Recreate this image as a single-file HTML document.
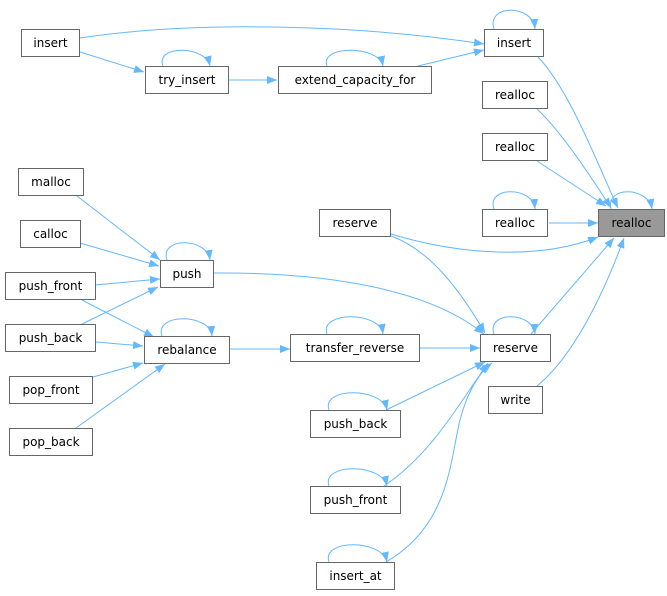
<!DOCTYPE html>
<html><head><meta charset="utf-8"><style>
body{margin:0;width:667px;height:596px;background:#fff;position:relative;overflow:hidden;font-family:"DejaVu Sans","Liberation Sans",sans-serif;}
.n{position:absolute;box-sizing:border-box;border:1px solid #666;background:#fff;font-size:12px;color:#000;display:flex;align-items:center;justify-content:center;white-space:nowrap;}
.g{background:#999;}
svg{position:absolute;left:0;top:0;}
</style></head><body>
<svg width="667" height="596" viewBox="0 0 667 596">
<defs><marker id="a" markerUnits="userSpaceOnUse" markerWidth="11" markerHeight="8" refX="10" refY="4" orient="auto"><path d="M0,0 L10,4 L0,8 z" fill="#63b8ff"/></marker></defs>
<g fill="none" stroke="#63b8ff" stroke-width="1" marker-end="url(#a)">
<path d="M80,38 C200,20 360,25 484,44"/>
<path d="M80,52 L144,72"/>
<path d="M163,66 C155,45 205,45 210,66"/>
<path d="M229,80 L277,80"/>
<path d="M327,66 C319,45 379,45 383,66"/>
<path d="M418,66 L484,50"/>
<path d="M494,29 C486,4 533,4 535,29"/>
<path d="M538,57 C570,90 600,170 618,208"/>
<path d="M537,109 C560,130 590,175 611,208"/>
<path d="M537,161 L606,206"/>
<path d="M494,209 C486,186 533,186 535,209"/>
<path d="M549,223 L598,223"/>
<path d="M611,209 C605,186 648,186 652,209"/>
<path d="M391,234 C460,255 540,260 598,237"/>
<path d="M391,236 C430,250 460,290 485,333"/>
<path d="M213,273 C330,272 430,290 484,334"/>
<path d="M531,334 L614,238"/>
<path d="M537,386 C575,355 605,290 624,238"/>
<path d="M494,334 C486,311 533,311 535,334"/>
<path d="M77,196 L160,260"/>
<path d="M80,243 L159,266"/>
<path d="M95,285 L160,279"/>
<path d="M82,324 L158,287"/>
<path d="M167,260 C159,237 207,237 210,260"/>
<path d="M82,300 L154,337"/>
<path d="M96,342 L143,346"/>
<path d="M93,377 L143,363"/>
<path d="M76,428 L165,364"/>
<path d="M162,336 C154,313 210,313 212,336"/>
<path d="M230,349 L290,349"/>
<path d="M327,334 C319,311 380,311 383,334"/>
<path d="M420,348 L480,348"/>
<path d="M386,410 L485,362"/>
<path d="M329,410 C321,387 382,387 387,410"/>
<path d="M384,486 C430,455 455,410 488,363"/>
<path d="M329,486 C321,463 382,463 387,486"/>
<path d="M386,562 C450,525 450,460 460,420 C468,390 480,372 492,363"/>
<path d="M329,562 C321,539 382,539 387,562"/>
</g>
</svg>
<div class="n" style="left:21px;top:29px;width:59px;height:28px">insert</div>
<div class="n" style="left:145px;top:66px;width:84px;height:28px">try_insert</div>
<div class="n" style="left:278px;top:66px;width:154px;height:28px">extend_capacity_for</div>
<div class="n" style="left:484px;top:29px;width:60px;height:28px">insert</div>
<div class="n" style="left:482px;top:81px;width:66px;height:28px">realloc</div>
<div class="n" style="left:482px;top:133px;width:66px;height:28px">realloc</div>
<div class="n" style="left:482px;top:209px;width:66px;height:28px">realloc</div>
<div class="n g" style="left:598px;top:209px;width:67px;height:28px">realloc</div>
<div class="n" style="left:319px;top:209px;width:72px;height:28px">reserve</div>
<div class="n" style="left:18px;top:168px;width:66px;height:28px">malloc</div>
<div class="n" style="left:20px;top:220px;width:61px;height:28px">calloc</div>
<div class="n" style="left:160px;top:260px;width:54px;height:28px">push</div>
<div class="n" style="left:5px;top:272px;width:91px;height:28px">push_front</div>
<div class="n" style="left:5px;top:324px;width:91px;height:28px">push_back</div>
<div class="n" style="left:144px;top:336px;width:86px;height:28px">rebalance</div>
<div class="n" style="left:9px;top:376px;width:84px;height:28px">pop_front</div>
<div class="n" style="left:9px;top:428px;width:84px;height:28px">pop_back</div>
<div class="n" style="left:290px;top:334px;width:130px;height:28px">transfer_reverse</div>
<div class="n" style="left:480px;top:334px;width:71px;height:28px">reserve</div>
<div class="n" style="left:488px;top:386px;width:55px;height:28px">write</div>
<div class="n" style="left:310px;top:410px;width:91px;height:28px">push_back</div>
<div class="n" style="left:310px;top:486px;width:91px;height:28px">push_front</div>
<div class="n" style="left:316px;top:562px;width:79px;height:28px">insert_at</div>
</body></html>
